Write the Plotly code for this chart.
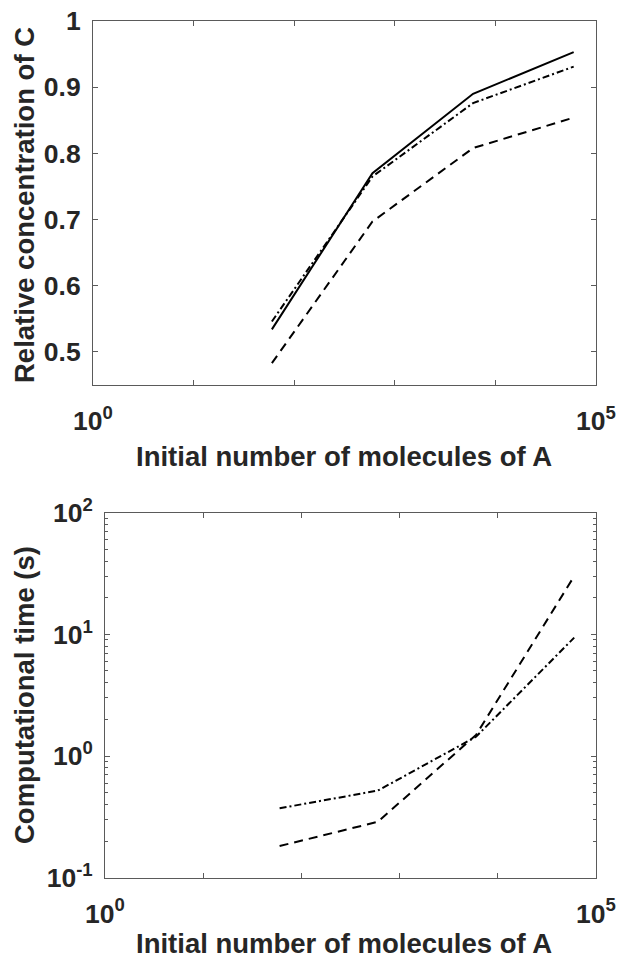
import plotly.graph_objects as go

# Initial number of molecules of A
n_molecules = [60, 600, 6000, 60000]

# Relative concentration of C
conc_solid = [0.534, 0.770, 0.890, 0.953]
conc_dashdot = [0.546, 0.765, 0.876, 0.931]
conc_dash = [0.483, 0.697, 0.808, 0.854]

# Computational time (s)
time_dashdot = [0.372, 0.52, 1.44, 9.4]
time_dash = [0.182, 0.288, 1.49, 30.1]

x_tickvals = [1, 10, 100, 1000, 10000, 100000]
x_ticktext = ['10<sup>0</sup>', '', '', '', '', '10<sup>5</sup>']
conc_tickvals = [0.5, 0.6, 0.7, 0.8, 0.9, 1.0]
conc_ticktext = ['0.5', '0.6', '0.7', '0.8', '0.9', '1']
time_tickvals = [0.1, 1, 10, 100]
time_ticktext = ['10<sup>-1</sup>', '10<sup>0</sup>', '10<sup>1</sup>', '10<sup>2</sup>']
time_minor = [m * d for d in [0.1, 1, 10] for m in range(2, 10)]

W, H = 623, 964
ink = '#262626'
axis_col = '#5a5a5a'
tick_font = dict(family='Liberation Sans, Arial', size=26.5, color=ink, weight='bold')
title_font = dict(family='Liberation Sans, Arial', size=27.5, color=ink, weight='bold')


def px_x(p):
    return p / W


def px_y(p):
    return 1 - p / H


def line(x, y, dash, xa, ya):
    return go.Scatter(x=x, y=y, mode='lines', xaxis=xa, yaxis=ya,
                      line=dict(color='black', width=2, dash=dash),
                      showlegend=False, hoverinfo='skip')


data = [
    line(n_molecules, conc_solid, 'solid', 'x', 'y'),
    line(n_molecules, conc_dashdot, '7px,3px,2px,3px', 'x', 'y'),
    line(n_molecules, conc_dash, '9px,6px', 'x', 'y'),
    line(n_molecules, time_dashdot, '7px,3px,2px,3px', 'x2', 'y2'),
    line(n_molecules, time_dash, '9px,6px', 'x2', 'y2'),
]

common = dict(showline=True, linecolor=axis_col, linewidth=1, mirror='ticks',
              ticks='inside', ticklen=5, tickcolor=axis_col, tickwidth=1,
              showgrid=False, zeroline=False, tickfont=tick_font, automargin=False)

layout = go.Layout(
    width=W, height=H,
    margin=dict(l=0, r=0, t=0, b=0),
    plot_bgcolor='white', paper_bgcolor='white',
    xaxis=dict(type='log', range=[0, 5], domain=[px_x(93), px_x(596)],
               tickvals=x_tickvals, ticktext=x_ticktext, ticklabelstandoff=12,
               anchor='y', **common),
    yaxis=dict(range=[0.45, 1], domain=[px_y(385), px_y(21)],
               tickvals=conc_tickvals, ticktext=conc_ticktext, ticklabelstandoff=6,
               anchor='x', **common),
    xaxis2=dict(type='log', range=[0, 5], domain=[px_x(105), px_x(596)],
                tickvals=x_tickvals, ticktext=x_ticktext, ticklabelstandoff=12,
                anchor='y2', **common),
    yaxis2=dict(type='log', range=[-1, 2], domain=[px_y(877.7), px_y(512.7)],
                tickvals=time_tickvals, ticktext=time_ticktext, ticklabelstandoff=6,
                minor=dict(tickvals=time_minor, ticks='inside', ticklen=3,
                           tickcolor=axis_col, tickwidth=1),
                anchor='x2', **common),
    annotations=[
        dict(text='Initial number of molecules of A', x=px_x(344), y=px_y(456),
             xref='paper', yref='paper', showarrow=False, font=title_font,
             xanchor='center', yanchor='middle'),
        dict(text='Initial number of molecules of A', x=px_x(344), y=px_y(943),
             xref='paper', yref='paper', showarrow=False, font=title_font,
             xanchor='center', yanchor='middle'),
        dict(text='Relative concentration of C', x=px_x(24), y=px_y(205),
             xref='paper', yref='paper', showarrow=False, font=title_font,
             textangle=-90, xanchor='center', yanchor='middle'),
        dict(text='Computational time (s)', x=px_x(24), y=px_y(695),
             xref='paper', yref='paper', showarrow=False, font=title_font,
             textangle=-90, xanchor='center', yanchor='middle'),
    ],
)

fig = go.Figure(data=data, layout=layout)
# drop the page's default body margin so the figure sits at the window's corner
fig.write_html('out.html', config={'displayModeBar': False},
               post_script="document.body.style.margin='0';")
